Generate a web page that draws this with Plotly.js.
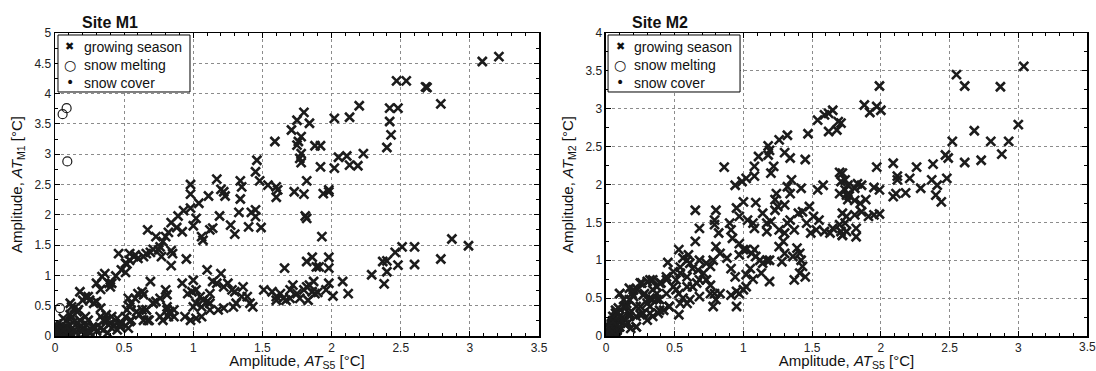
<!DOCTYPE html>
<html>
<head>
<meta charset="utf-8">
<script src="https://cdn.plot.ly/plotly-3.0.1.min.js"></script>
<style>html,body{margin:0;padding:0;background:#fff;overflow:hidden;}#chart{width:1096px;height:371px;}</style>
</head>
<body>
<div id="chart"></div>
<script>
// ---------- Site M1 ----------
const m1GrowX = [1.80,1.75,1.71,1.59,1.76,1.75,1.78,1.77,1.78,1.46,1.45,1.48,1.54,1.60,1.61,1.60,1.73,1.80,1.82,1.81,1.82,
0.98,0.98,1.04,1.11,1.17,1.20,1.22,1.23,1.34,1.35,1.34,1.33,1.19,1.27,1.30,1.40,1.42,1.45,1.45,1.49,
0.98,1.02,1.00,1.06,1.07,1.12,1.14,0.93,0.89,0.88,0.92,0.84,0.82,0.80,0.78,0.73,0.76,0.71,0.67,0.69,0.75,0.77,0.84,0.85,0.84,0.95,
0.66,0.64,0.60,0.57,0.54,0.52,0.51,0.46,0.54,0.58,0.48,0.51,0.44,0.36,0.34,0.30,0.39,0.41,0.40,0.33,
0.18,0.22,0.25,0.28,0.11,0.14,0.17,0.22,0.24,0.16,0.19,0.20,0.27,0.29,0.33,0.35,0.37,0.40,0.41,0.43,0.45,0.47,0.48,0.51,0.52,0.54,0.55,0.58,0.60,0.63,0.64,0.53,0.55,0.59,0.63,0.66,0.67,0.71,0.73,0.76,0.80,0.81,0.69,0.81,0.83,0.78,0.82,0.86,0.92,0.94,0.98,1.00,0.96,0.99,1.02,1.05,1.07,1.02,1.06,1.10,1.12,1.12,1.14,1.17,1.10,1.20,1.22,1.25,1.28,1.30,1.31,1.35,1.36,1.39,1.41,1.43,1.29,1.22,1.18,1.12,1.06,1.02,1.00,
1.51,1.57,1.60,1.63,1.65,1.67,1.70,1.72,1.75,1.77,1.80,1.82,1.66,1.82,1.60,1.70,
3.21,3.09,2.47,2.54,2.68,2.69,2.79,2.48,2.42,2.42,2.43,2.40,2.20,2.13,2.02,1.84,1.78,1.88,1.92,2.05,2.11,2.23,2.02,2.13,2.19,1.92,1.94,1.98,1.98,1.93,1.86,1.89,1.91,1.98,1.98,1.98,1.96,2.01,2.08,2.12,1.84,1.87,1.86,1.88,1.90,1.83,2.29,2.38,2.37,2.40,2.46,2.51,2.48,2.40,2.60,2.60,2.79,2.87,2.99,
0.12,0.08,0.25,0.30,0.22,0.35,0.38,0.06,0.13,0.09,0.15,
0.12,0.20,0.24,0.30,0.33,0.18,0.23,0.28,0.33,0.37,0.41,0.45,0.47,0.53,0.54,0.08,0.14,0.19,0.25,0.06,0.16,0.11,
0.61,0.66,0.71,0.76,0.81,0.83,0.86,0.64,0.68];
const m1GrowY = [3.69,3.56,3.40,3.21,3.21,3.15,3.01,2.93,2.86,2.90,2.71,2.56,2.49,2.46,2.41,2.29,2.38,2.34,2.56,1.98,1.94,
2.50,2.34,2.19,2.31,2.59,2.42,2.38,2.31,2.56,2.46,2.26,2.04,1.98,1.83,1.68,1.80,2.04,2.08,1.97,1.79,
2.11,1.94,1.82,1.64,1.58,1.75,1.78,2.07,1.98,1.79,1.72,1.87,1.71,1.64,1.56,1.64,1.47,1.43,1.75,1.38,1.42,1.31,1.41,1.36,1.16,1.27,
1.36,1.31,1.28,1.31,1.25,1.19,1.20,1.36,1.36,1.34,1.09,1.05,0.99,1.03,0.98,0.87,0.87,0.87,0.81,0.77,
0.73,0.65,0.59,0.54,0.54,0.46,0.43,0.32,0.26,0.21,0.17,0.13,0.15,0.13,0.32,0.26,0.35,0.21,0.13,0.18,0.10,0.15,0.21,0.32,0.43,0.48,0.54,0.62,0.70,0.73,0.68,0.62,0.26,0.40,0.43,0.43,0.26,0.54,0.57,0.62,0.76,0.68,0.90,0.48,0.40,0.26,0.32,0.43,0.87,0.32,0.26,0.92,0.70,0.73,0.76,0.65,0.59,0.54,0.48,0.57,0.70,0.54,0.90,0.87,1.09,1.03,0.81,0.87,0.76,0.73,0.54,0.65,0.81,0.65,0.54,0.48,0.48,0.46,0.43,0.43,0.32,0.29,0.48,
0.76,0.73,0.65,0.70,0.62,0.59,0.76,0.84,0.70,0.62,0.76,0.81,1.12,1.23,0.59,0.62,
4.61,4.53,4.21,4.21,4.11,4.10,3.83,3.76,3.76,3.54,3.32,3.11,3.80,3.61,3.59,3.51,3.29,3.14,3.14,2.95,2.97,3.01,2.77,2.82,2.81,2.79,2.35,2.41,2.38,1.64,1.30,1.14,1.14,1.30,1.12,0.87,0.76,0.66,0.90,0.70,0.84,0.90,0.73,0.70,0.72,0.59,1.01,0.86,1.23,1.24,1.38,1.47,1.17,1.06,1.47,1.18,1.27,1.60,1.49,
0.30,0.25,0.05,0.08,0.05,0.10,0.05,0.10,0.22,0.15,0.06,
0.48,0.59,0.65,0.57,0.46,0.26,0.18,0.13,0.13,0.26,0.32,0.29,0.18,0.13,0.24,0.15,0.10,0.07,0.07,0.29,0.40,0.35,
0.35,0.43,0.54,0.32,0.43,0.37,0.32,0.26,0.26];
const m1MeltX = [0.055,0.084,0.089,0.036,0.02,0.05];
const m1MeltY = [3.66,3.76,2.88,0.46,0.10,0.20];
const m1SnowX = [0.01,0.02,0.03,0.04,0.05,0.06,0.07,0.08,0.09,0.10,0.11,0.12,0.02,0.03,0.05,0.06,0.08,0.10,0.04,0.07,0.01,0.02,0.05,0.03,0.09,0.11,0.13,0.12,0.01,0.00,0.04,0.07,0.10,0.13,0.06,0.02,0.01,0.08,0.14,0.09];
const m1SnowY = [0.01,0.03,0.02,0.05,0.03,0.06,0.04,0.07,0.05,0.08,0.06,0.09,0.08,0.11,0.09,0.12,0.10,0.13,0.14,0.15,0.12,0.16,0.18,0.20,0.02,0.03,0.05,0.12,0.05,0.02,0.00,0.01,0.00,0.02,0.09,0.22,0.18,0.13,0.08,0.16];

// ---------- Site M2 ----------
const m2GrowX = [1.65,1.62,1.59,1.54,1.69,1.62,1.68,1.47,1.32,1.26,1.18,1.19,1.18,1.11,1.30,1.34,1.45,1.22,1.20,1.08,1.08,1.02,0.99,0.94,0.86,
1.70,1.74,1.70,1.75,1.58,1.54,1.42,1.35,1.32,1.34,1.24,1.30,1.23,1.09,1.00,0.95,0.97,1.03,1.07,1.08,1.14,1.17,1.20,1.17,1.26,1.30,1.32,1.34,1.37,1.40,1.43,1.48,1.51,1.46,1.49,1.53,1.55,1.59,1.63,1.65,1.70,1.72,1.76,1.72,1.75,
0.90,0.91,0.92,0.97,1.00,0.97,1.02,1.06,1.08,1.09,1.12,1.14,1.17,1.19,1.13,1.05,1.02,1.07,1.02,1.00,0.95,0.97,0.95,0.91,0.91,0.94,0.88,0.80,0.82,0.80,0.79,0.79,0.83,0.78,0.76,0.73,0.68,0.68,0.65,0.65,0.60,0.59,0.56,0.53,0.61,0.63,0.67,0.71,0.73,0.76,0.79,0.80,0.83,0.78,0.68,0.63,0.59,0.54,0.51,0.49,0.53,0.56,0.59,0.53,0.46,0.42,0.45,0.44,0.40,0.37,0.34,0.30,0.26,0.23,0.20,0.19,0.17,0.15,0.10,0.13,0.09,0.07,0.05,0.08,0.17,0.22,0.27,0.32,0.34,0.37,0.39,0.22,0.30,0.34,0.38,0.25,0.32,0.28,0.14,0.16,0.10,
1.28,1.30,1.36,1.39,1.41,1.42,1.43,1.41,1.45,1.37,1.19,1.26,1.29,1.23,1.25,
3.04,2.55,2.61,2.87,1.99,1.88,1.92,1.97,2.00,1.71,3.00,2.68,2.52,2.80,2.93,2.47,2.49,2.61,2.73,2.88,1.97,2.09,2.12,2.12,2.21,2.26,2.29,2.38,2.37,2.41,2.40,2.44,2.48,2.09,2.11,2.18,1.95,1.99,1.86,1.83,1.81,1.76,1.74,1.72,1.71,1.77,1.81,1.85,1.89,1.86,1.91,1.99,1.95,1.81,1.75,1.74,1.82,1.82,1.71,1.72,
0.03,0.06,0.10,0.12,0.05,0.08,0.14,0.18,
0.10,0.17,0.25,0.32,0.20,0.27,0.34,0.39,0.44,0.49,0.54,0.15,0.22,0.30,0.37,0.44,0.51,0.59,0.66,0.73,0.10,0.17,0.25,0.32,0.39,0.46,0.54,0.61,0.68,0.76,0.22,0.14,0.05,0.07,0.13];
const m2GrowY = [2.98,2.94,2.92,2.85,2.83,2.70,2.72,2.67,2.65,2.59,2.51,2.45,2.39,2.37,2.42,2.35,2.33,2.24,2.15,2.24,2.11,2.08,2.04,1.99,2.23,
2.16,2.06,1.88,1.86,1.99,1.93,1.95,2.06,1.97,1.88,1.88,1.73,1.80,1.76,1.77,1.69,1.58,1.53,1.49,1.42,1.62,1.49,1.51,1.38,1.40,1.36,1.49,1.53,1.40,1.62,1.64,1.71,1.58,1.49,1.36,1.40,1.53,1.38,1.36,1.42,1.47,1.62,1.80,1.33,1.38,
1.49,1.40,1.29,1.22,1.14,1.07,1.14,1.09,1.14,1.05,1.00,0.96,1.00,1.00,0.83,0.89,0.81,0.75,0.65,0.61,0.59,0.56,0.39,0.54,0.89,0.78,1.03,1.18,1.36,1.66,1.53,1.47,1.09,1.00,0.92,0.96,1.00,1.42,1.66,1.25,1.07,1.00,1.03,1.14,0.96,0.89,0.87,0.83,0.74,0.67,0.56,0.48,0.56,0.39,0.74,0.65,0.78,0.83,0.74,0.65,0.56,0.50,0.43,0.28,0.39,0.34,0.97,0.74,0.70,0.65,0.74,0.72,0.70,0.61,0.61,0.56,0.48,0.43,0.56,0.39,0.37,0.30,0.26,0.21,0.30,0.26,0.30,0.39,0.48,0.56,0.48,0.12,0.21,0.26,0.30,0.39,0.50,0.56,0.21,0.17,0.12,
0.98,1.09,1.05,1.16,1.09,1.00,0.92,0.83,0.78,0.74,0.72,1.18,1.25,1.66,1.71,
3.56,3.45,3.30,3.29,3.30,3.05,2.95,3.03,2.98,2.81,2.79,2.71,2.57,2.57,2.57,2.39,2.35,2.29,2.32,2.40,2.23,2.28,2.11,2.06,2.08,2.23,1.95,2.27,2.06,1.99,1.86,1.77,2.08,1.84,1.88,1.89,1.96,1.93,1.99,2.01,1.95,1.99,1.93,2.15,2.04,1.85,1.79,1.75,1.80,1.64,1.58,1.61,1.60,1.60,1.58,1.49,1.42,1.31,1.38,1.33,
0.10,0.15,0.20,0.25,0.05,0.30,0.15,0.10,
0.56,0.63,0.70,0.74,0.52,0.54,0.61,0.70,0.78,0.85,0.91,0.39,0.39,0.43,0.48,0.56,0.61,0.65,0.70,0.74,0.26,0.26,0.28,0.30,0.34,0.39,0.43,0.48,0.52,0.56,0.12,0.15,0.19,0.34,0.48];
const m2MeltX = [0.03,0.05];
const m2MeltY = [0.08,0.15];
const m2SnowX = [0.01,0.02,0.03,0.04,0.05,0.06,0.07,0.08,0.09,0.10,0.02,0.03,0.05,0.06,0.04,0.07,0.01,0.02,0.08,0.09,0.00,0.04,0.07,0.03,0.05,0.06,0.10,0.11,0.01,0.08];
const m2SnowY = [0.01,0.04,0.02,0.06,0.03,0.08,0.05,0.10,0.06,0.12,0.10,0.14,0.12,0.16,0.18,0.20,0.15,0.20,0.15,0.02,0.05,0.00,0.01,0.24,0.22,0.26,0.04,0.08,0.08,0.03];

// tick values shared by both x axes
const xTickVals = [0, 0.5, 1, 1.5, 2, 2.5, 3, 3.5];
const xTickText = ['0', '0.5', '1', '1.5', '2', '2.5', '3', '3.5'];

const legendNames = ['growing season', 'snow melting', 'snow cover'];
const legendGlyphs = ['✖', '○', '•'];
const legendGlyphSizes = [11, 14, 14];
const ink = '#1c1c1c';
const FONT = 'Liberation Sans, Arial, Helvetica, sans-serif';

function traces(gx, gy, mx, my, sx, sy, xa, ya) {
  return [
    {x: sx, y: sy, xaxis: xa, yaxis: ya, type: 'scatter', mode: 'markers', name: legendNames[2],
     marker: {symbol: 'circle', size: 5, color: ink}},
    {x: gx, y: gy, xaxis: xa, yaxis: ya, type: 'scatter', mode: 'markers', name: legendNames[0],
     marker: {symbol: 'x-thin-open', size: 9, color: ink, line: {width: 2.6, color: ink}}},
    {x: mx, y: my, xaxis: xa, yaxis: ya, type: 'scatter', mode: 'markers', name: legendNames[1],
     marker: {symbol: 'circle-open', size: 9, color: ink, line: {width: 1.2, color: ink}}}
  ];
}

const data = [].concat(
  traces(m1GrowX, m1GrowY, m1MeltX, m1MeltY, m1SnowX, m1SnowY, 'x', 'y'),
  traces(m2GrowX, m2GrowY, m2MeltX, m2MeltY, m2SnowX, m2SnowY, 'x2', 'y2')
);

function axis(extra) {
  return Object.assign({
    showline: true, linecolor: '#000', linewidth: 1.5, mirror: 'ticks',
    ticks: 'inside', ticklen: 5, tickwidth: 1, tickcolor: '#000',
    showgrid: true, gridcolor: '#8c8c8c', griddash: 'dot', gridwidth: 1,
    zeroline: false, dtick: 0.5, tick0: 0, ticklabeloverflow: 'allow',
    tickfont: {family: FONT, size: 12, color: '#222'},
    automargin: false
  }, extra);
}

const xTitle = 'Amplitude, <i>AT</i><sub>S5</sub> [°C]';
const legendText = legendNames.join('<br>');
// legend rows (paper y of row centres) and the box
const rowY = [0.9538, 0.8960, 0.8383];

function legendParts(boxX0, boxX1, symX, textX) {
  const shapes = [{type: 'rect', xref: 'paper', yref: 'paper', x0: boxX0, x1: boxX1, y0: 0.8053, y1: 0.9934,
    fillcolor: '#fff', line: {color: '#000', width: 1}, layer: 'above'}];
  const annots = [{text: legendText, xref: 'paper', yref: 'paper', x: textX, y: 0.9835, xanchor: 'left', yanchor: 'top',
     align: 'left', showarrow: false, borderpad: 0, font: {family: FONT, size: 14, color: '#111'}}];
  legendGlyphs.forEach((g, i) => annots.push({text: g, xref: 'paper', yref: 'paper', x: symX, y: rowY[i],
     xanchor: 'center', yanchor: 'middle', showarrow: false, borderpad: 0,
     font: {family: 'DejaVu Sans, sans-serif', size: legendGlyphSizes[i], color: '#111'}}));
  return {shapes, annots};
}

const lg1 = legendParts(0.0029, 0.1308, 0.0145, 0.0271);
const lg2 = legendParts(0.5359, 0.6638, 0.5475, 0.5601);

// the right-hand axis' last label sits on the page edge, so it is written as an annotation at x2 = 3.5
const lastX2Label = {text: xTickText[7], xref: 'x2', yref: 'paper', x: xTickVals[7], y: -0.0363,
  xanchor: 'center', yanchor: 'middle', showarrow: false, font: {family: FONT, size: 12, color: '#222'}};

const layout = {
  width: 1096, height: 371,
  margin: {l: 55, r: 9, t: 33, b: 35},
  paper_bgcolor: '#fff', plot_bgcolor: '#fff',
  font: {family: FONT, color: '#111'},
  showlegend: false,
  xaxis: axis({domain: [0, 0.4690], range: [0, 3.5], anchor: 'y', tickmode: 'array', tickvals: xTickVals, ticktext: xTickText,
    minor: {dtick: 0.1, tick0: 0, ticks: 'inside', ticklen: 3, tickcolor: '#000', showgrid: false},
    title: {text: xTitle, font: {family: FONT, size: 15, color: '#111'}, standoff: 4}}),
  yaxis: axis({domain: [0, 1], range: [0, 5], anchor: 'x',
    minor: {dtick: 0.25, ticks: 'inside', ticklen: 3, tickcolor: '#000', showgrid: false},
    title: {text: 'Amplitude, <i>AT</i><sub>M1</sub> [°C]', font: {family: FONT, size: 15, color: '#111'}, standoff: 8}}),
  xaxis2: axis({domain: [0.5339, 1], range: [0, 3.5], anchor: 'y2', tickmode: 'array',
    tickvals: xTickVals.slice(0, -1), ticktext: xTickText.slice(0, -1),
    minor: {dtick: 0.1, tick0: 0, ticks: 'inside', ticklen: 3, tickcolor: '#000', showgrid: false},
    title: {text: xTitle, font: {family: FONT, size: 15, color: '#111'}, standoff: 4}}),
  yaxis2: axis({domain: [0, 1], range: [0, 4], anchor: 'x2',
    minor: {dtick: 0.25, ticks: 'inside', ticklen: 3, tickcolor: '#000', showgrid: false},
    title: {text: 'Amplitude, <i>AT</i><sub>M2</sub> [°C]', font: {family: FONT, size: 15, color: '#111'}, standoff: 8}}),
  shapes: lg1.shapes.concat(lg2.shapes),
  annotations: [
    {text: '<b>Site M1</b>', xref: 'paper', yref: 'paper', x: 0.0242, y: 1.036, xanchor: 'left', yanchor: 'middle',
     showarrow: false, font: {family: FONT, size: 16, color: '#111'}},
    {text: '<b>Site M2</b>', xref: 'paper', yref: 'paper', x: 0.5572, y: 1.036, xanchor: 'left', yanchor: 'middle',
     showarrow: false, font: {family: FONT, size: 16, color: '#111'}},
    lastX2Label
  ].concat(lg1.annots, lg2.annots)
};

Plotly.newPlot('chart', data, layout, {displayModeBar: false, staticPlot: true});
</script>
</body>
</html>
